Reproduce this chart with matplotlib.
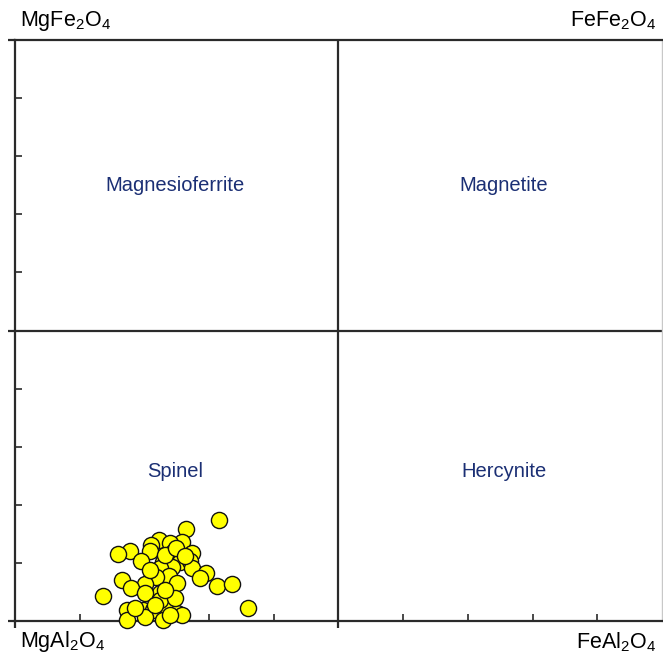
import matplotlib
matplotlib.use("Agg")
import matplotlib.pyplot as plt
import numpy as np

plt.rcParams['font.family'] = ['Liberation Sans', 'DejaVu Sans']
plt.rcParams['mathtext.fontset'] = 'custom'
plt.rcParams['mathtext.rm'] = 'Liberation Sans'

# end-member compositions at the corners of the square
corner_labels = {
    'top_left': r'MgFe$_\mathregular{2}$O$_\mathregular{4}$',
    'top_right': r'FeFe$_\mathregular{2}$O$_\mathregular{4}$',
    'bottom_left': r'MgAl$_\mathregular{2}$O$_\mathregular{4}$',
    'bottom_right': r'FeAl$_\mathregular{2}$O$_\mathregular{4}$',
}

# field names and their centres (Fe/(Fe+Mg), Fe3+/(Fe3+ + Al))
field_names = ['Magnesioferrite', 'Magnetite', 'Spinel', 'Hercynite']
field_x = [0.248, 0.756, 0.248, 0.756]
field_y = [0.75, 0.75, 0.258, 0.258]

# analysed spinels
fe_ratio = [0.315, 0.264, 0.258, 0.223, 0.240, 0.210, 0.178, 0.159, 0.209,
            0.244, 0.274, 0.195, 0.229, 0.255, 0.270, 0.243, 0.224, 0.274,
            0.295, 0.286, 0.165, 0.238, 0.218, 0.250, 0.312, 0.335, 0.201,
            0.179, 0.224, 0.201, 0.136, 0.360, 0.173, 0.198, 0.213, 0.236,
            0.250, 0.258, 0.173, 0.201, 0.229, 0.224, 0.216, 0.232, 0.249,
            0.263, 0.209, 0.247, 0.232, 0.185, 0.240]
fe3_ratio = [0.174, 0.158, 0.136, 0.139, 0.134, 0.131, 0.120, 0.115, 0.121,
             0.119, 0.117, 0.103, 0.102, 0.102, 0.103, 0.093, 0.091, 0.091,
             0.083, 0.074, 0.071, 0.077, 0.076, 0.065, 0.060, 0.064, 0.064,
             0.057, 0.048, 0.048, 0.043, 0.022, 0.019, 0.019, 0.019, 0.021,
             0.014, 0.010, 0.002, 0.007, 0.002, 0.036, 0.028, 0.114, 0.126,
             0.112, 0.088, 0.040, 0.053, 0.022, 0.010]

line_col = '#2a2a2a'
text_col = '#1b2f74'

fig = plt.figure(figsize=(6.63, 6.58), dpi=100)
ax = fig.add_axes([0.0226, 0.0562, 0.9759, 0.8830])
ax.set_xlim(0, 1)
ax.set_ylim(0, 1)

for side in ['left', 'bottom', 'top']:
    ax.spines[side].set_color(line_col)
    ax.spines[side].set_linewidth(1.6)
ax.spines['right'].set_color('#c8c8c8')
ax.spines['right'].set_linewidth(1.0)

ax.axhline(0.5, color=line_col, lw=1.6, zorder=1)
ax.axvline(0.5, color=line_col, lw=1.6, zorder=1)

ax.set_xticks([0, 0.5])
ax.set_yticks([0, 0.5, 1])
ax.set_xticks(np.arange(0.1, 1.0, 0.1), minor=True)
ax.set_yticks(np.arange(0.1, 1.0, 0.1), minor=True)
ax.tick_params(which='major', direction='out', length=5, width=1.6,
               color=line_col, labelbottom=False, labelleft=False)
ax.tick_params(which='minor', direction='in', length=5, width=1.2,
               color=line_col)

ax.scatter(fe_ratio, fe3_ratio, s=135, facecolor='#ffff00',
           edgecolor='#111111', linewidth=1.0, zorder=3, clip_on=False)

for name, x, y in zip(field_names, field_x, field_y):
    ax.text(x, y, name, color=text_col, fontsize=14.5,
            ha='center', va='center')

fig.text(20 / 663, 1 - 21 / 658, corner_labels['top_left'], fontsize=15.5,
         ha='left', va='center')
fig.text(656 / 663, 1 - 21 / 658, corner_labels['top_right'], fontsize=15.5,
         ha='right', va='center')
fig.text(20 / 663, 1 - 642 / 658, corner_labels['bottom_left'], fontsize=15.5,
         ha='left', va='center')
fig.text(656 / 663, 1 - 642 / 658, corner_labels['bottom_right'], fontsize=15.5,
         ha='right', va='center')

fig.savefig('out.png', dpi=100)
